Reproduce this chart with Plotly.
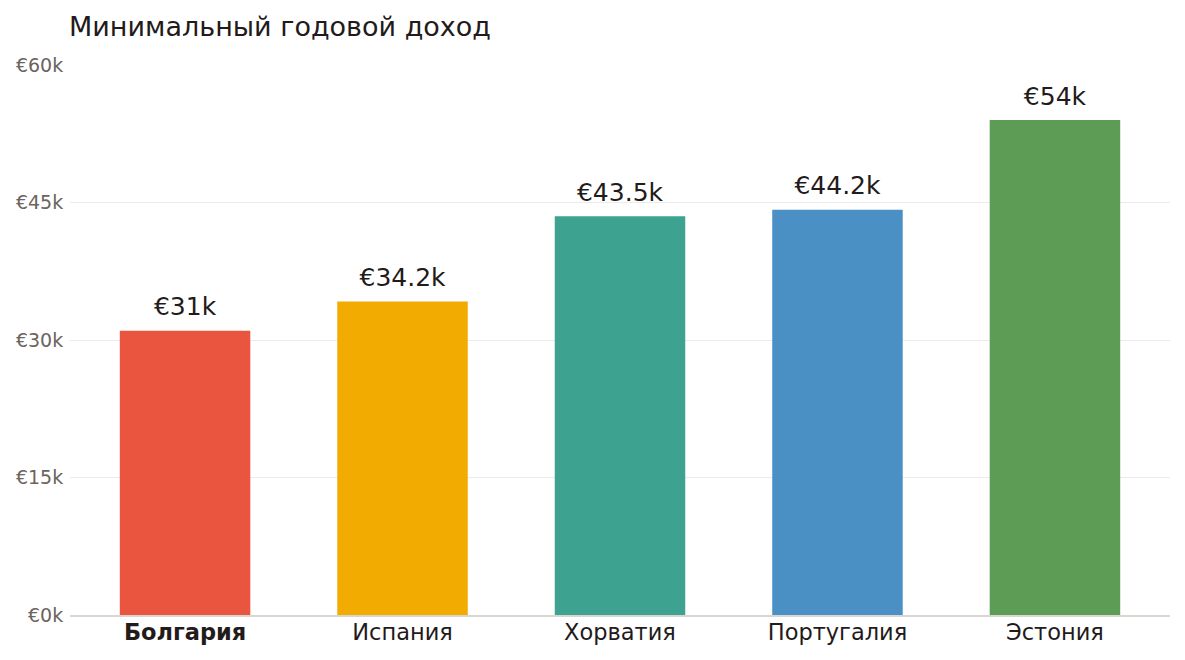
import plotly.graph_objects as go

countries = ["Болгария", "Испания", "Хорватия", "Португалия", "Эстония"]
incomes = [31000, 34200, 43500, 44200, 54000]
labels = ["€31k", "€34.2k", "€43.5k", "€44.2k", "€54k"]
colors = ["#E9553F", "#F2AB00", "#3DA390", "#4A90C5", "#5C9C55"]
tick_vals = [0, 15000, 30000, 45000, 60000]
tick_text = ["€0k", "€15k", "€30k", "€45k", "€60k"]
cat_text = ["<b>Болгария</b>", "Испания", "Хорватия", "Португалия", "Эстония"]

W, H = 1177, 652  # page has an 8px body margin

fig = go.Figure()
fig.add_trace(go.Bar(
    x=countries, y=incomes, marker=dict(color=colors, line=dict(width=0)),
    hoverinfo="skip",
))
fig.add_trace(go.Scatter(
    x=countries, y=incomes, mode="markers+text", text=labels,
    marker=dict(size=13, color="rgba(0,0,0,0)"),
    textposition="top center", cliponaxis=False,
    textfont=dict(size=25, color="#231a1a", family="DejaVu Sans"),
    hoverinfo="skip",
))
fig.update_layout(
    width=W, height=H,
    margin=dict(l=62, r=15, t=57, b=45),
    paper_bgcolor="white", plot_bgcolor="white",
    font=dict(family="DejaVu Sans", color="#231a1a"),
    title=dict(text="Минимальный годовой доход", x=61/W, xanchor="left",
               y=1-19/H, yanchor="middle",
               font=dict(size=27, color="#231a1a", family="DejaVu Sans")),
    bargap=0.4, showlegend=False,
    xaxis=dict(tickmode="array", tickvals=countries, ticktext=cat_text,
               range=[-0.529, 4.529], automargin=False,
               tickfont=dict(size=22.5, color="#231a1a"), showgrid=False,
               showline=True, linecolor="#d9d5d0", linewidth=2, ticks="",
               ticklabelstandoff=-4),
    yaxis=dict(range=[0, 60000], tickvals=tick_vals, ticktext=tick_text,
               automargin=False,
               tickfont=dict(size=19, color="#6b6460"), gridcolor="#ebebeb",
               gridwidth=1, zeroline=False, ticks="outside", ticklen=2,
               tickcolor="rgba(0,0,0,0)"),
)
fig.write_html("out.html")
